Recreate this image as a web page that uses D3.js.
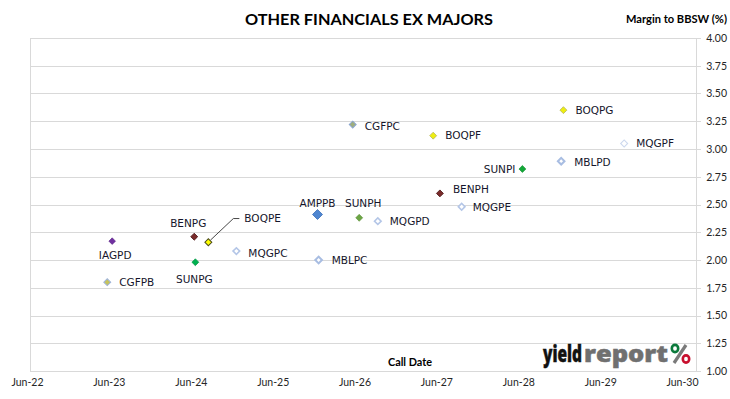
<!DOCTYPE html>
<html><head><meta charset="utf-8">
<script src="https://cdn.jsdelivr.net/npm/d3@7"></script>
<style>
html,body{margin:0;padding:0;background:#fff;}
svg{display:block;}
</style></head>
<body>
<svg id="chart" width="730" height="399"></svg>
<script>
// ---- data ----
const names = ["IAGPD","CGFPB","BENPG","SUNPG","BOQPE","MQGPC","AMPPB","MBLPC","CGFPC","SUNPH","MQGPD","BOQPF","BENPH","MQGPE","SUNPI","MBLPD","BOQPG","MQGPF"];
const callDates = ["2023-07-15","2023-06-23","2024-07-15","2024-07-20","2024-09-16","2025-01-19","2026-01-16","2026-01-21","2026-06-22","2026-07-21","2026-10-12","2027-06-16","2027-07-16","2027-10-21","2028-07-18","2029-01-07","2029-01-17","2029-10-15"];
const margins = [2.17,1.80,2.21,1.98,2.16,2.08,2.41,2.00,3.22,2.38,2.35,3.12,2.60,2.48,2.82,2.89,3.35,3.05];
const xTickDates = ["2022-06-30","2023-06-30","2024-06-30","2025-06-30","2026-06-30","2027-06-30","2028-06-30","2029-06-30","2030-06-30"];
const yTicks = [1.00,1.25,1.50,1.75,2.00,2.25,2.50,2.75,3.00,3.25,3.50,3.75,4.00];

// ---- styles (by name) ----
const styles = {
  IAGPD:{fill:"#7030a0",stroke:"#5b2585",sw:0.6,s:22},
  CGFPB:{fill:"#c6c35c",stroke:"#9fb4dc",sw:1,s:24},
  BENPG:{fill:"#7a2b2b",stroke:"#4a1515",sw:0.8,s:24},
  BENPH:{fill:"#7a2b2b",stroke:"#4a1515",sw:0.8,s:24},
  SUNPG:{fill:"#00b050",stroke:"#009040",sw:0.6,s:24},
  SUNPI:{fill:"#13a838",stroke:"#0d8c2c",sw:0.6,s:24},
  SUNPH:{fill:"#6ca544",stroke:"#5a8f38",sw:0.6,s:24},
  BOQPE:{fill:"#ffff00",stroke:"#4d4d1a",sw:1,s:24},
  BOQPF:{fill:"#eeee10",stroke:"#b8b860",sw:0.8,s:24},
  BOQPG:{fill:"#eeee10",stroke:"#b8b860",sw:0.8,s:24},
  MQGPC:{fill:"#ffffff",stroke:"#b4c6e7",sw:1.6,s:22},
  MQGPD:{fill:"#ffffff",stroke:"#b4c6e7",sw:1.6,s:22},
  MQGPE:{fill:"#ffffff",stroke:"#b4c6e7",sw:1.6,s:22},
  MQGPF:{fill:"#ffffff",stroke:"#ccd8ee",sw:1.1,s:24},
  MBLPC:{fill:"#ffffff",stroke:"#a8bde2",sw:2,s:22},
  MBLPD:{fill:"#ffffff",stroke:"#a8bde2",sw:2,s:22},
  AMPPB:{fill:"#4f86d0",stroke:"#3f72bb",sw:0.8,s:50},
  CGFPC:{fill:"#9fae7c",stroke:"#8ca6d0",sw:1,s:24}
};
// label placement: dx, dy, anchor
const labelPos = {
  IAGPD:[3,14,"middle"], CGFPB:[12,0,"start"], BENPG:[-6,-13,"middle"], SUNPG:[-1,17,"middle"],
  BOQPE:[36,-24,"start"], MQGPC:[12,2,"start"], AMPPB:[0,-11,"middle"], MBLPC:[13,0,"start"],
  CGFPC:[12,1.5,"start"], SUNPH:[4,-15,"middle"], MQGPD:[12,0,"start"], BOQPF:[12,0,"start"],
  BENPH:[13,-4,"start"], MQGPE:[11,0,"start"], SUNPI:[-7,0,"end"], MBLPD:[13,1,"start"],
  BOQPG:[12,0,"start"], MQGPF:[12,0,"start"]
};

const parse = d3.timeParse("%Y-%m-%d");
const data = names.map((n,i)=>({name:n, date:parse(callDates[i]), m:margins[i]}));

const svg = d3.select("#chart");
const plotL = 30, plotR = 696, plotT = 38, plotB = 371;

const x = d3.scaleTime().domain([parse(xTickDates[0]), parse(xTickDates[xTickDates.length-1])]).range([27, 682]);
const y = d3.scaleLinear().domain([1,4]).range([plotB, plotT]);

// gridlines
svg.append("g").selectAll("line").data(yTicks).join("line")
  .attr("x1",plotL).attr("x2",plotR+5)
  .attr("y1",d=>Math.round(y(d))+0.5).attr("y2",d=>Math.round(y(d))+0.5)
  .attr("stroke","#d9d9d9").attr("stroke-width",1);
// borders
svg.append("line").attr("x1",plotL+0.5).attr("x2",plotL+0.5).attr("y1",plotT).attr("y2",plotB+1).attr("stroke","#d9d9d9");
svg.append("line").attr("x1",plotR+0.5).attr("x2",plotR+0.5).attr("y1",plotT).attr("y2",plotB+1).attr("stroke","#d9d9d9");

// y axis (right)
const yAxis = d3.axisRight(y).tickValues(yTicks).tickFormat(d3.format(".2f")).tickSize(0).tickPadding(0);
const gy = svg.append("g").attr("transform",`translate(727,0)`).call(yAxis);
gy.select(".domain").remove();
gy.selectAll("text").attr("text-anchor","end").attr("x",0)
  .style("font-family","Lato, 'Open Sans', sans-serif").style("font-size","10.5px").attr("fill","#262626");

// x axis
const xAxis = d3.axisBottom(x).tickValues(xTickDates.map(parse)).tickFormat(d3.timeFormat("%b-%y")).tickSize(0).tickPadding(0);
const gx = svg.append("g").attr("transform",`translate(0,379)`).call(xAxis);
gx.select(".domain").remove();
gx.selectAll("text").style("font-family","Lato, 'Open Sans', sans-serif").style("font-size","10.5px").attr("fill","#262626");

// titles
svg.append("text").attr("x",369).attr("y",25).attr("text-anchor","middle")
  .attr("textLength",248).attr("lengthAdjust","spacingAndGlyphs")
  .style("font-family","Lato, sans-serif").style("font-weight","bold").style("font-size","16px").attr("fill","#000")
  .text("OTHER FINANCIALS EX MAJORS");
svg.append("text").attr("x",727).attr("y",23).attr("text-anchor","end")
  .attr("textLength",101).attr("lengthAdjust","spacingAndGlyphs")
  .style("font-family","Lato, sans-serif").style("font-weight","bold").style("font-size","10.5px").attr("fill","#000")
  .text("Margin to BBSW (%)");
svg.append("text").attr("x",410).attr("y",366).attr("text-anchor","middle")
  .attr("textLength",44).attr("lengthAdjust","spacingAndGlyphs")
  .style("font-family","Lato, sans-serif").style("font-weight","bold").style("font-size","10.5px").attr("fill","#000")
  .text("Call Date");

// logo (scaled horizontally to fit)
function logoWord(str, x0, targetW, color){
  const g = svg.append("g");
  const t = g.append("text").attr("x",0).attr("y",0)
    .style("font-family","'Open Sans', Lato, sans-serif").style("font-weight","800").style("font-size","23px")
    .attr("fill",color).attr("stroke",color).attr("stroke-width",0.5).text(str);
  const w = t.node().getComputedTextLength() || targetW;
  g.attr("transform",`translate(${x0},362) scale(${targetW / w},1)`);
}
logoWord("yield", 543, 39, "#111");
logoWord("report", 584, 84, "#707070");
const logo = svg.append("g");
logo.append("line").attr("x1",674).attr("y1",363).attr("x2",686).attr("y2",345).attr("stroke","#7a7a7a").attr("stroke-width",3.2);
logo.append("ellipse").attr("cx",675).attr("cy",348.5).attr("rx",3.2).attr("ry",3.6).attr("fill","none").attr("stroke","#0b7a3b").attr("stroke-width",2.6);
logo.append("ellipse").attr("cx",686).attr("cy",359).attr("rx",3.2).attr("ry",3.6).attr("fill","none").attr("stroke","#c8102e").attr("stroke-width",2.6);

// BOQPE leader line
const boqpe = data.find(d=>d.name==="BOQPE");
svg.append("polyline")
  .attr("points",[[x(boqpe.date)+2,y(boqpe.m)-2],[x(boqpe.date)+25,y(boqpe.m)-23.7],[x(boqpe.date)+31,y(boqpe.m)-23.7]].map(p=>p.join(",")).join(" "))
  .attr("fill","none").attr("stroke","#333").attr("stroke-width",0.9);

// points
const diamond = d3.symbol().type(d3.symbolSquare);
svg.append("g").selectAll("path").data(data).join("path")
  .attr("d",d=>diamond.size(styles[d.name].s)())
  .attr("transform",d=>`translate(${x(d.date)},${y(d.m)}) rotate(45)`)
  .attr("fill",d=>styles[d.name].fill)
  .attr("stroke",d=>styles[d.name].stroke)
  .attr("stroke-width",d=>styles[d.name].sw);

// labels
svg.append("g").selectAll("text").data(data).join("text")
  .attr("x",d=>x(d.date)+labelPos[d.name][0])
  .attr("y",d=>y(d.m)+labelPos[d.name][1])
  .attr("dy","0.36em")
  .attr("text-anchor",d=>labelPos[d.name][2])
  .style("font-family","'DejaVu Sans', sans-serif").style("font-size","10.5px")
  .attr("fill","#15152b")
  .text(d=>d.name);
</script>
</body></html>
